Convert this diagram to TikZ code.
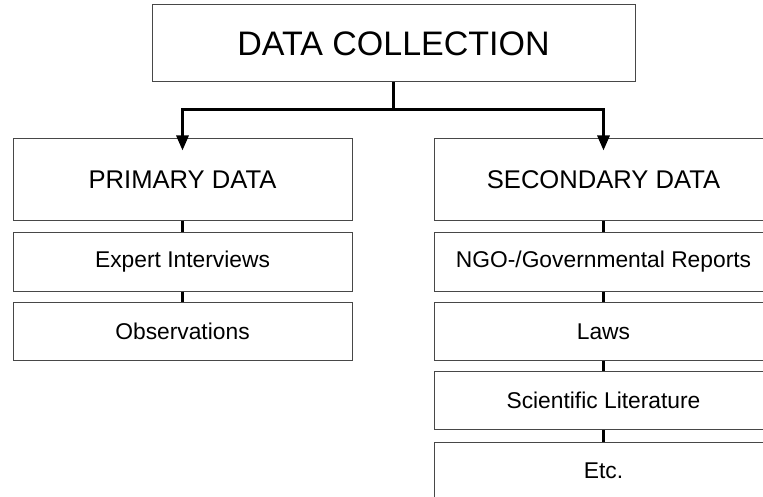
\documentclass[tikz,border=0pt]{standalone}
\usepackage{fontspec}
\setmainfont{Liberation Sans}
\usetikzlibrary{arrows.meta,calc}
\begin{document}
\begin{tikzpicture}[x=1pt,y=-1pt,
  box/.style={draw=black!72,line width=1pt,fill=white,inner sep=0pt,anchor=center},
  bigbox/.style={box,minimum width=483pt,minimum height=77pt,font=\fontsize{34}{38}\selectfont},
  headbox/.style={box,minimum width=339pt,minimum height=82pt,font=\fontsize{25.6}{30}\selectfont},
  itembox/.style={box,minimum width=339pt,minimum height=58pt,font=\fontsize{22.8}{26}\selectfont},
  link/.style={draw=black,line width=3.5pt},
  arrowlink/.style={draw=black,line width=3pt,-{Triangle[width=12pt,length=15pt]}}]
\useasboundingbox (0,0) rectangle (763,497);
\clip (0,0) rectangle (763,497);
\fill[white] (0,0) rectangle (763,497);
% nodes
\node[bigbox] (top) at (393.5,43.5) {DATA COLLECTION};
\node[headbox] (prim) at (182.5,180) {PRIMARY DATA};
\node[itembox] (exp) at (182.5,262) {Expert Interviews};
\node[itembox] (obs) at (182.5,331.5) {Observations};
\node[headbox] (sec) at (603.5,180) {SECONDARY DATA};
\node[itembox] (ngo) at (603.5,262) {NGO-/Governmental Reports};
\node[itembox] (laws) at (603.5,331.5) {Laws};
\node[itembox] (sci) at (603.5,400.5) {Scientific Literature};
\node[itembox] (etc) at (603.5,471) {Etc.};
% connectors
\coordinate (j) at ($(top.south)+(0,27)$);
\coordinate (pa) at ([yshift=-12pt]prim.north);
\coordinate (sa) at ([yshift=-12pt]sec.north);
\draw[arrowlink] (top.south) -- (j) -| (pa);
\draw[arrowlink] (j) -| (sa);
\draw[link] (prim) -- (exp);
\draw[link] (exp) -- (obs);
\draw[link] (sec) -- (ngo);
\draw[link] (ngo) -- (laws);
\draw[link] (laws) -- (sci);
\draw[link] (sci) -- (etc);
\end{tikzpicture}
\end{document}
